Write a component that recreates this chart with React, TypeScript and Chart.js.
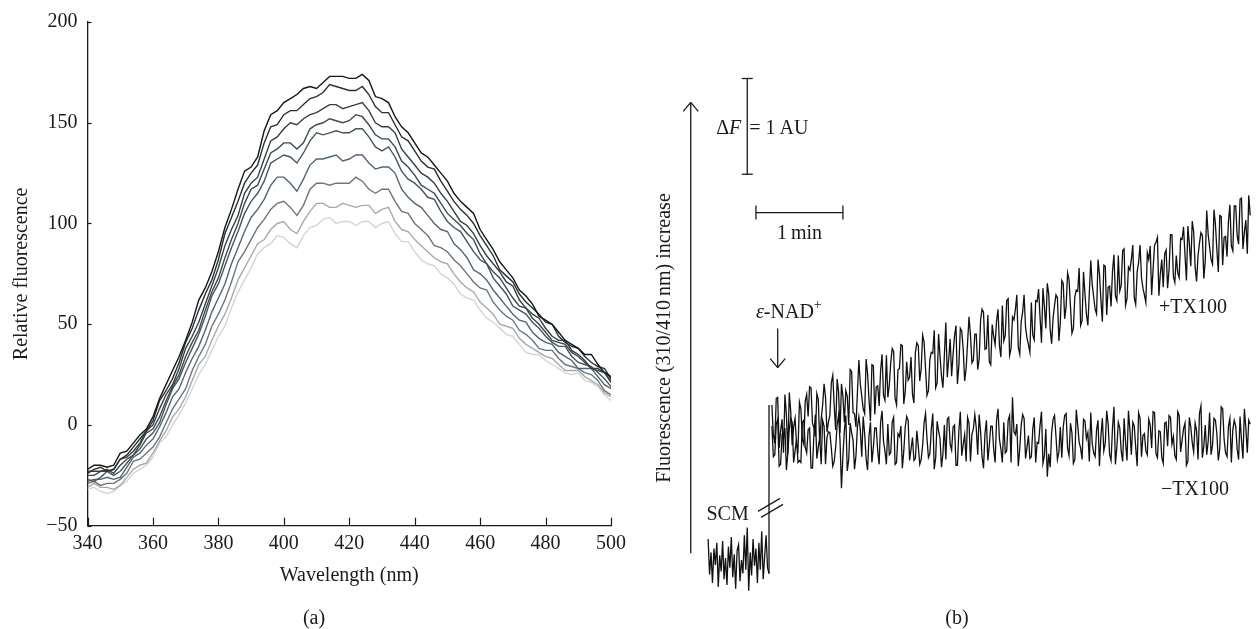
import React, { useEffect, useRef } from "react";
import { Chart, registerables } from "chart.js";

Chart.register(...registerables);

const SERIF = '"Liberation Serif", "DejaVu Serif", serif';
const INK = "#1a1a1a";

// ---------------- Panel (a): emission spectra ----------------
const wavelengths = Array.from({ length: 81 }, (_, i) => 340 + 2 * i);
const spectrum1 = [-22,-20,-20,-21,-20,-14,-13,-9,-5,-2,4,13,20,27,34,42,51,62,68,76,86,98,107,117,126,128,133,146,154,156,160,162,164,167,168,167,170,173,173,173,172,172,174,171,163,162,160,153,148,145,140,135,133,129,125,121,115,111,108,105,97,92,87,81,77,73,67,64,60,54,52,50,46,42,40,38,35,35,30,26,24];
const spectrum2 = [-24,-22,-21,-23,-22,-17,-15,-11,-7,-3,2,12,17,23,31,41,48,57,65,72,82,95,103,111,120,125,129,140,148,149,154,156,156,159,162,163,165,169,168,167,166,166,168,164,158,155,155,149,143,141,136,131,128,127,121,116,111,107,104,100,94,89,84,77,74,71,65,61,58,55,51,50,44,41,39,38,34,31,29,28,23];
const spectrum3 = [-23,-23,-23,-23,-22,-17,-16,-13,-9,-3,0,8,15,20,28,38,44,51,60,69,78,89,97,104,115,120,123,132,141,143,147,150,149,152,154,155,157,159,159,157,158,159,160,156,150,148,148,145,137,133,129,125,123,120,115,111,106,101,99,95,89,84,80,76,71,69,62,58,55,53,48,44,42,42,37,35,32,28,28,26,22];
const spectrum4 = [-25,-25,-23,-22,-24,-20,-17,-15,-10,-4,-2,4,12,19,25,34,41,47,57,66,73,83,92,100,110,117,119,127,135,137,140,140,137,140,147,149,150,152,151,150,151,154,153,149,144,142,142,138,131,128,124,119,117,115,110,105,102,99,95,92,85,80,76,73,68,63,59,58,53,50,46,42,41,40,36,34,31,28,27,26,21];
const spectrum5 = [-27,-28,-26,-23,-25,-23,-19,-15,-12,-7,-4,1,10,18,23,31,38,45,54,64,70,79,88,96,105,111,115,121,130,132,134,133,130,135,141,145,144,145,146,145,145,147,147,143,138,136,138,133,126,122,120,117,113,112,106,101,98,96,91,86,82,80,73,69,65,59,57,55,51,48,44,41,39,39,34,31,30,29,26,23,19];
const spectrum6 = [-28,-27,-27,-26,-27,-26,-21,-16,-14,-10,-7,-1,6,14,18,26,33,39,47,56,63,70,80,88,96,103,107,112,119,123,123,120,116,122,129,132,132,133,134,131,132,134,134,130,127,128,128,125,117,113,110,108,104,100,97,96,90,87,83,77,75,72,67,63,59,55,52,51,46,43,41,40,36,34,32,28,28,28,24,20,18];
const spectrum7 = [-29,-28,-30,-29,-29,-27,-24,-18,-17,-14,-11,-6,1,8,13,18,27,34,40,49,55,62,71,81,86,92,98,102,107,110,111,108,104,109,117,120,120,119,120,120,120,123,121,117,115,117,117,111,106,105,100,97,94,89,88,86,82,79,75,71,68,67,61,57,54,52,47,45,42,38,37,37,33,30,29,28,26,25,22,17,15];
const spectrum8 = [-31,-29,-31,-31,-32,-30,-26,-22,-20,-19,-14,-8,-3,4,8,14,22,30,34,42,49,55,63,72,78,84,90,92,97,100,101,97,95,101,106,110,110,108,108,110,109,108,109,109,105,107,108,101,97,96,92,89,86,83,81,80,75,71,68,66,61,58,55,50,49,48,43,40,38,36,34,33,30,27,27,27,24,22,20,16,14];
const spectrum9 = [-32,-31,-33,-34,-33,-30,-28,-24,-22,-20,-16,-9,-6,0,5,11,18,25,30,37,44,49,58,66,72,78,85,88,90,94,93,90,88,94,98,99,102,103,100,101,101,99,101,101,98,100,101,95,91,91,86,82,80,79,75,73,70,65,63,62,57,53,51,48,45,44,40,36,35,35,32,30,28,26,25,26,22,21,19,15,12];
const spectra = [spectrum1, spectrum2, spectrum3, spectrum4, spectrum5, spectrum6, spectrum7, spectrum8, spectrum9];
const spectrumColors = ["#161616", "#2a3131", "#364040", "#3e4a4e", "#47555d", "#536474", "#6c7579", "#a9a9a9", "#d4d4d4"];
const xTicksA = [340, 360, 380, 400, 420, 440, 460, 480, 500];
const yTicksA = [-50, 0, 50, 100, 150, 200];

// ---------------- Panel (b): fluorescence traces ----------------
const scmTimes = Array.from({ length: 43 }, (_, i) => i);
const scmSignal = [0.22,-0.15,0.08,-0.24,0.12,-0.05,0.18,-0.28,0.05,-0.12,0.2,-0.2,0.02,-0.26,0.14,-0.08,0.24,-0.18,0.06,-0.3,0.1,0.16,-0.22,0.0,-0.14,0.26,-0.1,0.34,-0.32,0.08,-0.16,0.22,-0.06,0.12,-0.24,0.18,-0.1,0.3,-0.2,0.04,0.26,-0.08,-0.14];
const additionTime = 42;
const traceTimes = Array.from({ length: 331 }, (_, i) => 44 + i);
const withTX100 = [
  1.62,1.31,1.22,1.69,1.7,1.17,1.35,1.47,1.12,1.73,1.52,1.11,1.75,1.55,1.2,1.39,1.48,1.21,1.15,1.65,
  1.58,1.26,1.21,1.66,1.73,1.5,1.81,1.8,1.43,1.38,1.29,1.74,1.68,1.22,1.47,1.62,1.84,1.7,1.34,1.44,
  1.51,1.85,1.93,1.61,1.36,1.89,1.76,1.33,1.84,1.71,1.44,1.77,1.71,1.41,1.99,1.97,1.54,1.53,1.39,1.75,
  2.09,1.84,1.71,1.58,1.53,2.1,1.95,1.68,1.45,2.04,2.03,1.52,1.81,1.82,1.61,1.98,2.15,1.72,1.67,2.14,
  1.7,1.83,2.06,2.21,2.18,1.69,1.62,1.99,2.0,2.25,2.24,1.63,1.76,2.07,1.88,1.91,2.12,1.73,1.64,2.17,
  2.27,2.24,1.87,2.0,2.35,2.28,2.0,1.72,1.77,2.1,2.17,2.16,2.4,1.8,1.85,2.36,2.13,1.92,1.8,2.14,
  2.48,1.91,2.1,2.31,1.92,2.15,2.34,2.45,1.84,2.03,2.42,2.39,2.2,1.87,2.0,2.27,2.54,2.35,2.06,2.09,
  2.36,2.36,1.99,2.1,2.51,2.62,2.59,2.2,2.21,2.56,2.07,2.04,2.46,2.34,2.25,2.5,2.62,2.24,2.12,2.66,
  2.29,2.35,2.71,2.73,2.14,2.21,2.54,2.51,2.62,2.77,2.22,2.15,2.49,2.59,2.77,2.43,2.32,2.25,2.17,2.69,
  2.35,2.3,2.71,2.7,2.83,2.54,2.27,2.84,2.65,2.42,2.89,2.78,2.41,2.26,2.53,2.66,2.77,2.74,2.29,2.48,
  2.92,2.89,2.52,2.65,3.0,2.93,2.65,2.37,2.42,2.75,2.82,2.81,3.05,2.45,2.5,3.01,2.78,2.57,2.45,2.79,
  3.13,2.88,2.75,2.62,2.57,3.14,2.99,2.72,2.49,3.08,3.07,2.56,2.85,2.86,2.65,3.02,3.19,2.76,2.71,3.18,
  2.81,2.87,3.23,3.25,2.66,2.73,3.06,3.03,3.14,3.29,2.74,2.67,3.01,3.11,3.29,2.95,2.84,2.77,2.69,3.21,
  3.14,3.28,2.77,3.04,3.29,3.32,3.37,2.76,2.99,3.14,2.85,3.2,3.24,2.84,3.03,3.4,3.4,2.96,2.9,3.18,
  3.0,2.95,3.36,3.35,3.48,3.19,2.92,3.49,3.3,3.07,3.54,3.43,3.06,2.91,3.18,3.31,3.42,3.39,2.94,3.13,
  3.65,3.4,3.27,3.14,3.09,3.66,3.51,3.24,3.01,3.6,3.59,3.08,3.37,3.38,3.17,3.54,3.71,3.28,3.23,3.7,
  3.7,3.39,3.3,3.77,3.78,3.25,3.43,3.55,3.2,3.81,3.6,
];
const withoutTX100 = [
  1.4,1.08,1.1,1.42,1.47,0.98,1.0,1.3,1.27,1.38,0.94,1.12,1.37,1.48,1.44,1.02,1.14,1.26,1.02,1.04,
  1.02,1.44,1.46,1.18,1.12,1.36,1.38,0.96,0.96,1.32,1.52,1.06,1.18,1.28,1.0,1.46,1.4,1.0,1.28,1.34,
  1.33,1.17,0.98,1.03,1.18,1.41,1.51,1.25,0.75,1.09,1.35,1.51,0.93,1.05,1.43,1.33,1.25,0.95,1.09,1.39,
  1.5,1.36,1.08,1.5,1.32,1.06,0.94,1.3,1.44,1.02,1.18,1.38,1.38,1.14,1.0,1.44,1.56,1.24,1.14,1.0,
  1.42,1.1,1.12,1.44,1.49,1.0,1.02,1.32,1.29,1.4,0.96,1.14,1.39,1.5,1.46,1.04,1.16,1.28,1.04,1.06,
  1.35,1.19,1.0,1.05,1.2,1.43,1.53,1.27,1.07,1.11,1.37,1.53,0.95,1.07,1.45,1.35,1.27,0.97,1.11,1.41,
  1.05,1.47,1.49,1.21,1.15,1.39,1.41,0.99,0.99,1.35,1.55,1.09,1.21,1.31,1.03,1.49,1.43,1.03,1.31,1.37,
  1.52,1.38,1.1,1.52,1.34,1.08,0.96,1.32,1.46,1.04,1.2,1.4,1.4,1.16,1.02,1.46,1.58,1.26,1.16,1.02,
  1.44,1.12,1.14,1.46,1.51,1.02,1.7,1.34,1.31,1.42,0.98,1.16,1.41,1.52,1.48,1.06,1.18,1.3,1.06,1.08,
  1.37,1.49,1.02,1.23,1.22,1.41,1.55,1.01,1.09,1.37,0.87,1.11,0.97,1.33,1.47,1.51,1.29,1.05,1.13,1.39,
  1.07,1.39,1.51,1.53,1.17,1.09,1.43,1.33,1.01,1.05,1.57,1.41,1.23,1.17,1.05,1.47,1.45,1.27,1.33,1.03,
  1.54,1.22,1.12,1.08,1.36,1.46,0.98,1.3,1.48,1.14,1.22,1.56,1.42,1.1,1.04,1.38,1.6,1.0,1.18,1.44,
  1.38,1.14,1.03,1.48,1.23,1.04,1.56,1.36,1.1,1.44,1.4,1.18,0.98,1.54,1.48,1.08,1.3,1.32,1.14,1.1,
  1.47,1.41,1.17,1.55,1.54,1.11,1.07,1.35,1.34,1.07,1.01,1.43,1.44,1.19,1.51,1.49,1.21,1.29,1.09,1.05,
  1.55,1.51,1.13,1.25,1.37,1.43,0.99,1.03,1.49,1.39,1.23,1.13,1.43,1.35,1.05,1.53,1.61,1.07,1.19,1.41,
  1.1,1.24,1.54,1.1,1.2,1.48,1.46,1.32,1.04,1.16,1.6,1.58,1.26,1.12,1.08,1.4,1.48,1.02,1.36,1.46,
  1.4,1.16,1.05,1.5,1.25,1.06,1.58,1.38,1.12,1.46,1.42,
];

// annotation anchors for panel (b), in data units (seconds, AU)
const notesB = {
  axisArrow: { t: -12, from: 0.07, to: 4.78 },
  axisLabel: { t: -29.8, v: 2.32, text: "Fluorescence (310/410\u2009nm) increase" },
  deltaF: { t: 27, from: 4.03, to: 5.03, v: 4.5 },
  minute: { from: 33, to: 93, v: 3.63, labelV: 3.41 },
  nad: { t: 48, from: 2.42, to: 2.01, textT: 33, textV: 2.58 },
  plus: { t: 334.5, v: 2.64, text: "+TX100" },
  minus: { t: 335.9, v: 0.73, text: "\u2212TX100" },
  scm: { t: 13.4, v: 0.47, text: "SCM" },
  breakV: 0.54,
};

const inwardTicks = {
  id: "inwardTicks",
  afterDraw(chart: any) {
    const { ctx, chartArea, scales } = chart;
    const x = scales.x;
    const y = scales.y;
    ctx.save();
    ctx.strokeStyle = INK;
    ctx.lineWidth = 1.2;
    x.ticks.forEach((t: any) => {
      const p = Math.round(x.getPixelForValue(t.value)) + 0.5;
      ctx.beginPath();
      ctx.moveTo(p, chartArea.bottom);
      ctx.lineTo(p, chartArea.bottom - 8);
      ctx.stroke();
    });
    y.ticks.forEach((t: any) => {
      const p = Math.round(y.getPixelForValue(t.value)) + 0.5;
      ctx.beginPath();
      ctx.moveTo(chartArea.left, p);
      ctx.lineTo(chartArea.left + 4, p);
      ctx.stroke();
    });
    ctx.restore();
  },
};

const notesPlugin = {
  id: "notesB",
  afterDatasetsDraw(chart: any) {
    const { ctx, scales } = chart;
    const px = (t: number) => scales.x.getPixelForValue(t);
    const py = (v: number) => scales.y.getPixelForValue(v);
    const line = (x1: number, y1: number, x2: number, y2: number) => {
      ctx.beginPath();
      ctx.moveTo(x1, y1);
      ctx.lineTo(x2, y2);
      ctx.stroke();
    };
    ctx.save();
    ctx.strokeStyle = INK;
    ctx.fillStyle = INK;
    ctx.lineWidth = 1.3;
    const font = `20px ${SERIF}`;
    const italic = `italic 20px ${SERIF}`;

    // vertical axis arrow
    const a = notesB.axisArrow;
    const ax = px(a.t);
    const ayTop = py(a.to);
    line(ax, py(a.from), ax, ayTop);
    line(ax - 7.5, ayTop + 9, ax, ayTop);
    line(ax + 7.5, ayTop + 9, ax, ayTop);

    // axis label
    ctx.save();
    ctx.translate(px(notesB.axisLabel.t), py(notesB.axisLabel.v));
    ctx.rotate(-Math.PI / 2);
    ctx.font = font;
    ctx.textAlign = "center";
    ctx.textBaseline = "middle";
    ctx.fillText(notesB.axisLabel.text, 0, 0);
    ctx.restore();

    // ΔF scale bar
    const d = notesB.deltaF;
    const dx = px(d.t);
    const dTop = py(d.to);
    const dBot = py(d.from);
    line(dx, dTop, dx, dBot);
    line(dx - 5.5, dTop, dx + 5.5, dTop);
    line(dx - 5.5, dBot, dx + 5.5, dBot);
    ctx.textBaseline = "middle";
    const dy = py(d.v);
    ctx.font = italic;
    const fW = ctx.measureText("F").width;
    ctx.textAlign = "right";
    ctx.fillText("F", dx - 6, dy);
    ctx.font = font;
    ctx.fillText("\u0394", dx - 6 - fW, dy);
    ctx.textAlign = "left";
    ctx.fillText("= 1\u2009AU", dx + 2, dy);

    // 1 min bar
    const m = notesB.minute;
    const mL = px(m.from);
    const mR = px(m.to);
    const mY = py(m.v);
    line(mL, mY, mR, mY);
    line(mL, mY - 7, mL, mY + 7);
    line(mR, mY - 7, mR, mY + 7);
    ctx.textAlign = "center";
    ctx.fillText("1\u2009min", (mL + mR) / 2, py(m.labelV));

    // ε-NAD+ arrow
    const n = notesB.nad;
    const nx = px(n.t);
    const nEnd = py(n.to);
    line(nx, py(n.from), nx, nEnd);
    line(nx - 7.5, nEnd - 9, nx, nEnd);
    line(nx + 7.5, nEnd - 9, nx, nEnd);
    let tx = px(n.textT);
    const ty = py(n.textV);
    ctx.textAlign = "left";
    ctx.font = italic;
    ctx.fillText("\u03b5", tx, ty);
    tx += ctx.measureText("\u03b5").width;
    ctx.font = font;
    ctx.fillText("-NAD", tx, ty);
    tx += ctx.measureText("-NAD").width;
    ctx.font = `14px ${SERIF}`;
    ctx.fillText("+", tx, ty - 8);

    // trace labels
    ctx.font = font;
    ctx.textAlign = "center";
    [notesB.plus, notesB.minus, notesB.scm].forEach((l) => ctx.fillText(l.text, px(l.t), py(l.v)));

    // break marks on the jump
    const bx = px(additionTime);
    const by = py(notesB.breakV);
    ctx.lineWidth = 1.2;
    line(bx - 11, by + 3, bx + 11, by - 10);
    line(bx - 8, by + 9, bx + 14, by - 4);
    ctx.restore();
  },
};

function PanelA() {
  const ref = useRef<HTMLCanvasElement>(null);
  useEffect(() => {
    if (!ref.current) return;
    const tickFont = { family: SERIF, size: 20 };
    const chart = new Chart(ref.current, {
      type: "line",
      data: {
        datasets: spectra.map((s, i) => ({
          data: wavelengths.map((w, j) => ({ x: w, y: s[j] })),
          borderColor: spectrumColors[i],
          borderWidth: 1.4,
          pointRadius: 0,
          tension: 0,
          fill: false,
        })),
      },
      options: {
        animation: false,
        responsive: false,
        maintainAspectRatio: false,
        layout: { padding: { top: 16, right: 29, bottom: 0, left: 0 } },
        plugins: { legend: { display: false }, tooltip: { enabled: false } },
        scales: {
          x: {
            type: "linear",
            min: 340,
            max: 500,
            afterBuildTicks: (s: any) => {
              s.ticks = xTicksA.map((v) => ({ value: v }));
            },
            afterFit: (s: any) => {
              s.height = 103.3;
            },
            ticks: { font: tickFont, color: INK, padding: 6, maxRotation: 0, autoSkip: false },
            grid: { display: false, drawTicks: false },
            border: { display: true, color: INK, width: 1.3 },
            title: { display: true, text: "Wavelength (nm)", font: tickFont, color: INK, padding: { top: 0, bottom: 41 } },
          },
          y: {
            type: "linear",
            min: -50,
            max: 200,
            afterBuildTicks: (s: any) => {
              s.ticks = yTicksA.map((v) => ({ value: v }));
            },
            afterFit: (s: any) => {
              s.width = 87.5;
            },
            ticks: {
              font: tickFont,
              color: INK,
              padding: 10,
              callback: (v: any) => (Number(v) < 0 ? "\u2212" + Math.abs(Number(v)) : String(v)),
            },
            grid: { display: false, drawTicks: false },
            border: { display: true, color: INK, width: 1.3 },
            title: { display: true, text: "Relative fluorescence", font: tickFont, color: INK, padding: { top: 10, bottom: 0 } },
          },
        },
      },
      plugins: [inwardTicks],
    });
    return () => chart.destroy();
  }, []);
  return <canvas ref={ref} width={640} height={629} style={{ position: "absolute", left: 0, top: 0 }} />;
}

function PanelB() {
  const ref = useRef<HTMLCanvasElement>(null);
  useEffect(() => {
    if (!ref.current) return;
    const trace = (times: number[], values: number[]) => times.map((t, i) => ({ x: t, y: values[i] }));
    const common = { borderColor: "#111", borderWidth: 1.3, pointRadius: 0, tension: 0, fill: false };
    const chart = new Chart(ref.current, {
      type: "line",
      data: {
        datasets: [
          { ...common, data: trace(traceTimes, withTX100) },
          { ...common, data: trace(traceTimes, withoutTX100) },
          { ...common, data: trace(scmTimes, scmSignal) },
          {
            ...common,
            borderWidth: 1.3,
            data: [
              { x: additionTime, y: scmSignal[scmSignal.length - 1] },
              { x: additionTime, y: withTX100[0] },
            ],
          },
        ],
      },
      options: {
        animation: false,
        responsive: false,
        maintainAspectRatio: false,
        layout: { padding: 0 },
        plugins: { legend: { display: false }, tooltip: { enabled: false } },
        scales: {
          x: { type: "linear", display: false, min: -47, max: 378 },
          y: { type: "linear", display: false, min: -0.72, max: 5.85 },
        },
      },
      plugins: [notesPlugin],
    });
    return () => chart.destroy();
  }, []);
  return <canvas ref={ref} width={616} height={629} style={{ position: "absolute", left: 640, top: 0 }} />;
}

const captionStyle: React.CSSProperties = {
  position: "absolute",
  top: 605,
  width: 60,
  textAlign: "center",
  font: `20px ${SERIF}`,
  lineHeight: "24px",
  color: INK,
};

export default function App() {
  return (
    <div style={{ position: "fixed", left: 0, top: 0, width: 1256, height: 629, background: "#fff", overflow: "hidden" }}>
      <PanelA />
      <PanelB />
      <div style={{ ...captionStyle, left: 284 }}>(a)</div>
      <div style={{ ...captionStyle, left: 927 }}>(b)</div>
    </div>
  );
}
